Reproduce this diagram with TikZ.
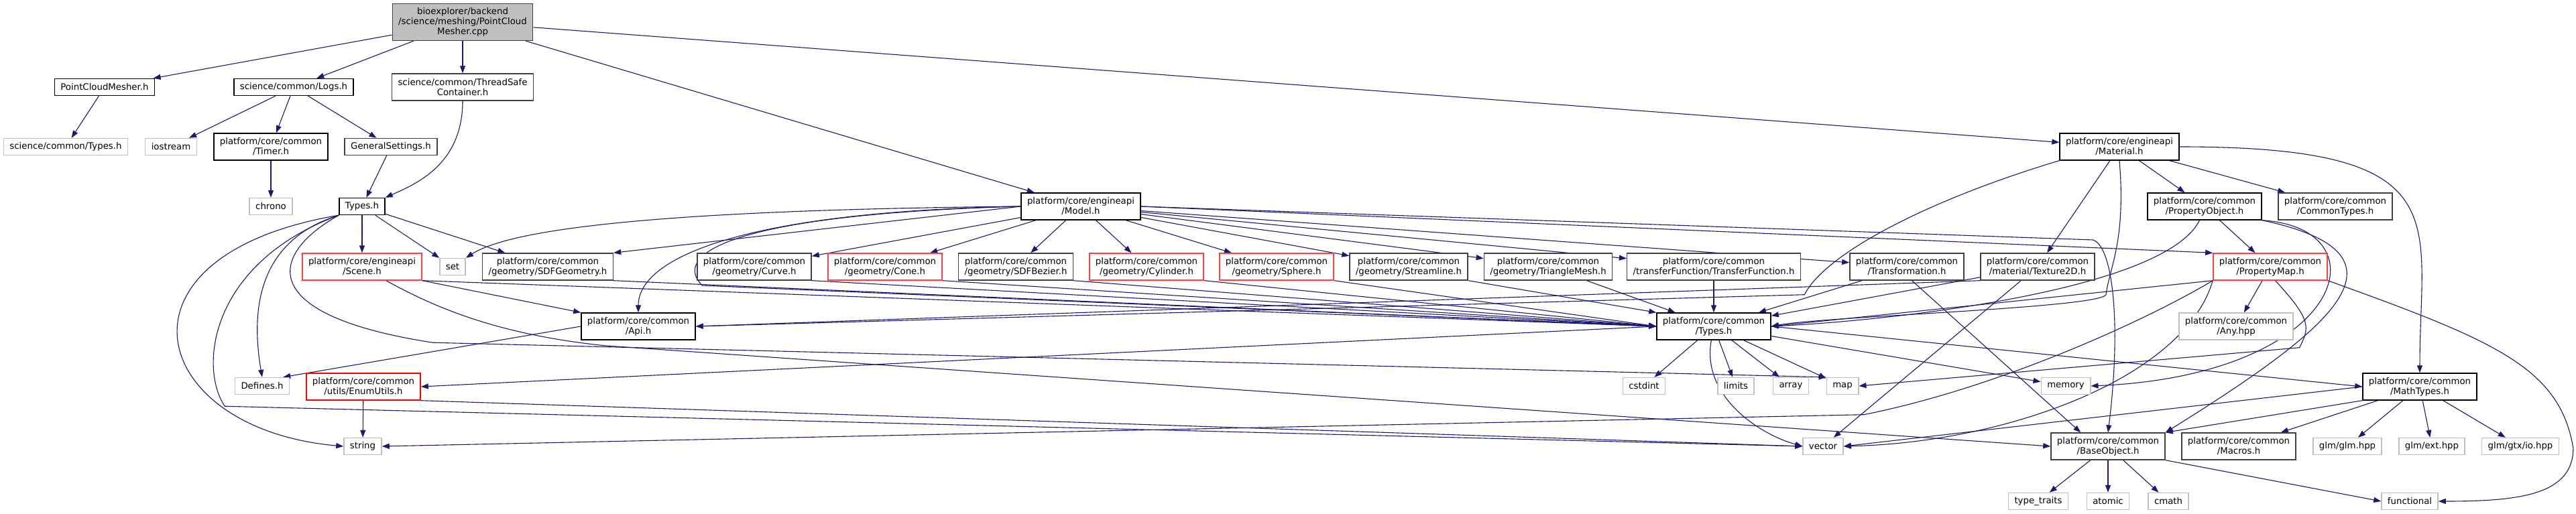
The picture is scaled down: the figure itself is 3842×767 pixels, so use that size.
\documentclass[tikz,border=0pt]{standalone}
\usepackage{fontspec}
\setmainfont{DejaVu Sans}
\usetikzlibrary{arrows.meta,backgrounds}
\definecolor{dxEdge}{HTML}{191970}
\definecolor{dxGrey}{HTML}{BFBFBF}
\definecolor{dxDark}{HTML}{404040}
\definecolor{dxRed}{HTML}{FF4040}

\begin{document}
\begin{tikzpicture}[x=1pt,y=-1pt,font=\fontsize{13.3}{15}\selectfont,
      f/.style={draw=black,fill=white,line width=1.4pt,inner xsep=9pt,inner ysep=2pt,
                minimum height=25pt,align=center},
      fd/.style={f,draw=dxDark},
      fx/.style={f,draw=dxGrey},
      fr/.style={f,draw=dxRed},
      two/.style={minimum height=40pt},
      dep/.style={draw=dxEdge,line width=1.1pt,-{Triangle[length=11pt,width=8pt]}}]
    \useasboundingbox (0,0) rectangle (3842,767);
    % rank 0 - 2
    \node[fd,fill=dxGrey,minimum height=55pt] (root) at (690,33) {bioexplorer/backend\\/science/meshing/PointCloud\\Mesher.cpp};
    \node[f]       (pcm)      at (156,130)  {PointCloudMesher.h};
    \node[f]       (logs)     at (438,130)  {science/common/Logs.h};
    \node[fd,two]  (tsafe)    at (690,130)  {science/common/ThreadSafe\\Container.h};
    \node[fx]      (sctypes)  at (98,219)   {science/common/Types.h};
    \node[fx]      (iostream) at (255,219)  {iostream};
    \node[f,two]   (timer)    at (404,219)  {platform/core/common\\/Timer.h};
    \node[fd]      (gset)     at (583,219)  {GeneralSettings.h};
    \node[f,two]   (material) at (3161,219) {platform/core/engineapi\\/Material.h};
    % rank 3
    \node[fx]      (chrono)   at (404,308)  {chrono};
    \node[f]       (types)    at (540,308)  {Types.h};
    \node[f,two]   (model)    at (1612,308) {platform/core/engineapi\\/Model.h};
    \node[f,two]   (propobj)  at (3288,308) {platform/core/common\\/PropertyObject.h};
    \node[fd,two]  (ctypes)   at (3483,308) {platform/core/common\\/CommonTypes.h};
    % rank 4
    \node[fr,two]  (scene)    at (540,398)  {platform/core/engineapi\\/Scene.h};
    \node[fx]      (set)      at (675,398)  {set};
    \node[fd,two]  (sdfgeom)  at (817,398)  {platform/core/common\\/geometry/SDFGeometry.h};
    \node[fd,two]  (curve)    at (1125,398) {platform/core/common\\/geometry/Curve.h};
    \node[fr,two]  (cone)     at (1320,398) {platform/core/common\\/geometry/Cone.h};
    \node[fd,two]  (bezier)   at (1515,398) {platform/core/common\\/geometry/SDFBezier.h};
    \node[fr,two]  (cyl)      at (1710,398) {platform/core/common\\/geometry/Cylinder.h};
    \node[fr,two]  (sphere)   at (1904,398) {platform/core/common\\/geometry/Sphere.h};
    \node[fd,two]  (stream)   at (2101,398) {platform/core/common\\/geometry/Streamline.h};
    \node[fd,two]  (trimesh)  at (2309,398) {platform/core/common\\/geometry/TriangleMesh.h};
    \node[fd,two]  (transfer) at (2556,398) {platform/core/common\\/transferFunction/TransferFunction.h};
    \node[fd,two]  (xform)    at (2844,398) {platform/core/common\\/Transformation.h};
    \node[fd,two]  (texture)  at (3039,398) {platform/core/common\\/material/Texture2D.h};
    \node[fr,two]  (propmap)  at (3386,398) {platform/core/common\\/PropertyMap.h};
    % rank 5
    \node[f,two]   (api)      at (952,487)  {platform/core/common\\/Api.h};
    \node[f,two]   (coretypes) at (2556,487) {platform/core/common\\/Types.h};
    \node[fx,two]  (any)      at (3335,487) {platform/core/common\\/Any.hpp};
    % rank 6
    \node[fx]      (defines)  at (391,576)  {Defines.h};
    \node[f,two,draw=red] (enumutils) at (542,577) {platform/core/common\\/utils/EnumUtils.h};
    \node[fx]      (cstdint)  at (2452,576) {cstdint};
    \node[fx]      (limits)   at (2589,576) {limits};
    \node[fx]      (array)    at (2671,576) {array};
    \node[fx]      (map)      at (2748,576) {map};
    \node[fx]      (memory)   at (3081,576) {memory};
    \node[f,two]   (mathtypes) at (3609,577) {platform/core/common\\/MathTypes.h};
    % rank 7 - 8
    \node[fx]      (string)   at (541,666)  {string};
    \node[fx]      (vector)   at (2719,666) {vector};
    \node[fd,two]  (baseobj)  at (3144,666) {platform/core/common\\/BaseObject.h};
    \node[fd,two]  (macros)   at (3339,666) {platform/core/common\\/Macros.h};
    \node[fx]      (glm)      at (3501,666) {glm/glm.hpp};
    \node[fx]      (glmext)   at (3627,666) {glm/ext.hpp};
    \node[fx]      (glmio)    at (3759,666) {glm/gtx/io.hpp};
    \node[fx]      (traits)   at (3040,748) {type\_traits};
    \node[fx]      (atomic)   at (3144,748) {atomic};
    \node[fx]      (cmath)    at (3234,748) {cmath};
    \node[fx]      (functional) at (3594,748) {functional};

    \begin{scope}[on background layer]
      \fill[white] (0,0) rectangle (3842,767);
      % upper part
      \foreach \t in {pcm,logs,tsafe,model,material} \draw[dep] (root) -- (\t);
      \draw[dep] (pcm) -- (sctypes);
      \foreach \t in {iostream,timer,gset} \draw[dep] (logs) -- (\t);
      \draw[dep] (timer) -- (chrono);
      \draw[dep] (gset) -- (types);
      \draw[dep] (tsafe.south) .. controls +(0,95) and +(45,-20) .. (types.north east);
      % Types.h
      \foreach \t in {scene,set,sdfgeom} \draw[dep] (types) -- (\t);
      \draw[dep] (types.south west) .. controls +(-125,39) and +(-16,-94) .. (defines.north);
      \draw[dep] (types.south west) .. controls +(-355,60) and +(-292,-26) .. (string.west);
      \draw[dep] (types.south west) .. controls +(-190,70) and +(-40,-60) .. ++(-170,285) -- (vector.west);
      \draw[dep] (types.south west) .. controls +(-105,59) and +(-265,-41) .. ++(140,190) -- (map.north west);
      % Scene.h
      \draw[dep] (scene.south east) -- (api.north west);
      \draw[dep] (scene.south east) -- (coretypes.west);
      \draw[dep] (scene.-30) .. controls +(90,50) and +(-140,-15) .. ++(325,97) -- (baseobj.west);
      % Model.h
      \draw[dep] (model.west) .. controls +(-520,5) and +(70,-45) .. (set.north east);
      \draw[dep] (model.west) -- (sdfgeom.north east);
      \draw[dep] (model.west) .. controls +(-420,8) and +(0,-80) .. (api.north);
      \draw[dep] (model.west) .. controls +(-440,12) and +(-45,-45) .. ++(-475,118) -- (coretypes.west);
      \foreach \t in {curve,cone,bezier,cyl,sphere,stream,trimesh,transfer,xform} \draw[dep] (model) -- (\t);
      \draw[dep] (model.east) -- (propmap.north west);
      \draw[dep] (model.east) -- ++(1420,50) .. controls +(30,10) and +(20,-160) .. (baseobj.north);
      % geometry headers
      \foreach \s in {sdfgeom,curve,cone,bezier,cyl,sphere} \draw[dep] (\s.south east) -- (coretypes.west);
      \draw[dep] (stream.south east) -- (coretypes.north west);
      \draw[dep] (trimesh) -- (coretypes);
      \draw[dep] (transfer) -- (coretypes);
      \draw[dep] (xform) -- (coretypes);
      \draw[dep] (xform.-70) -- ([xshift=45pt]baseobj.north west);
      % Material.h
      \foreach \t in {texture,propobj,ctypes} \draw[dep] (material) -- (\t);
      \draw[dep] (material.east) .. controls +(420,0) and +(0,-230) .. (mathtypes.north);
      \draw[dep] (material.south west) .. controls +(-200,60) and +(30,-60) .. ++(-380,200) -- (api.east);
      \draw[dep] (material.south) .. controls +(10,120) and +(5,-40) .. ++(-20,200)
                 .. controls +(-10,20) and +(80,-15) .. (coretypes.east);
      \draw[dep] (texture) -- (coretypes);
      \draw[dep] (texture) -- (vector);
      \draw[dep] (texture.south west) -- (api.east);
      % PropertyObject.h
      \draw[dep] (propobj) -- (propmap);
      \draw[dep] (propobj.-110) .. controls +(-50,102) and +(200,-10) .. (coretypes.east);
      \draw[dep] (propobj.south east) .. controls +(246,52) and +(240,-150) .. (baseobj.north east);
      \draw[dep] (propobj.south east) .. controls +(186,12) and +(380,-16) .. (memory.east);
      % PropertyMap.h
      \draw[dep] (propmap) -- (any);
      \draw[dep] (propmap.south west) -- (coretypes.east);
      \draw[dep] (propmap.south west) .. controls +(-100,60) and +(200,-40) .. ++(-520,200) -- (string.east);
      \draw[dep] (propmap.south west) .. controls +(-41,142) and +(250,-6) .. (vector.east);
      \draw[dep] (propmap.-70) .. controls +(55,60) and +(15,-30) .. ++(36,100) -- (map.east);
      \draw[dep] (propmap.south east) .. controls +(250,90) and +(-20,-120) .. ++(366,250)
                 .. controls +(0,70) and +(120,0) .. (functional.east);
      % Api.h, core Types.h
      \draw[dep] (api.west) -- ([xshift=-10pt]defines.north east);
      \foreach \t in {cstdint,limits,array,map,memory} \draw[dep] (coretypes) -- (\t);
      \draw[dep] (coretypes.west) -- (enumutils.east);
      \draw[dep] (coretypes.east) -- (mathtypes.west);
      \draw[dep] (coretypes.-100) .. controls +(-15,80) and +(-70,-20) .. (vector.west);
      \draw[dep] (enumutils) -- (string);
      \draw[dep] (enumutils.south east) -- (vector.west);
      % MathTypes.h, BaseObject.h
      \draw[dep] (mathtypes.west) -- (vector.east);
      \draw[dep] (mathtypes.south west) -- (baseobj.north east);
      \foreach \t in {macros,glm,glmext,glmio} \draw[dep] (mathtypes) -- (\t);
      \foreach \t in {traits,atomic,cmath} \draw[dep] (baseobj) -- (\t);
      \draw[dep] (baseobj.south east) -- (functional.west);
    \end{scope}
  \end{tikzpicture}
\end{document}
